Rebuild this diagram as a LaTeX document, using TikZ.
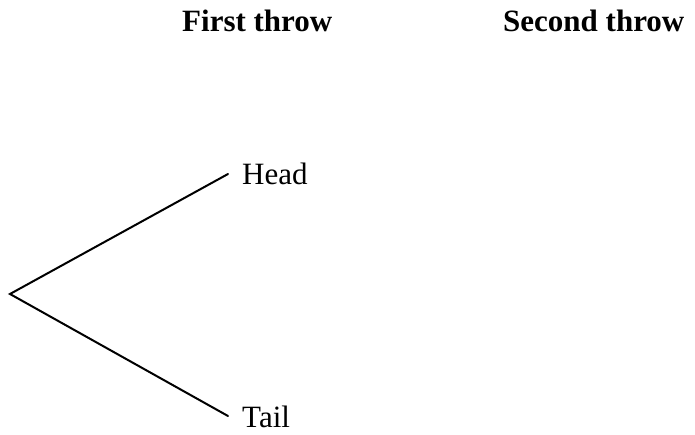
\documentclass[tikz,border=0pt]{standalone}
\usepackage{fontspec}
\setmainfont{Liberation Serif}
\begin{document}
\begin{tikzpicture}[x=1pt,y=-1pt,
  lbl/.style={inner sep=0pt,anchor=base west,font=\fontsize{31}{37}\selectfont},
  hdr/.style={lbl,font=\fontsize{31}{37}\selectfont\bfseries},
  branch/.style={line width=2pt,line cap=round,line join=miter}]
\useasboundingbox (0,0) rectangle (695,435);
\node[hdr] (first) at (182,32) {First throw};
\node[hdr] (second) at (503,32) {Second throw};
\coordinate (root) at (10,294);
\coordinate (hend) at (228,174);
\coordinate (tend) at (228,416);
\node[lbl] (head) at (242,185) {Head};
\node[lbl] (tail) at (242,427) {Tail};
\draw[branch] (hend) -- (root) -- (tend);
\end{tikzpicture}
\end{document}
